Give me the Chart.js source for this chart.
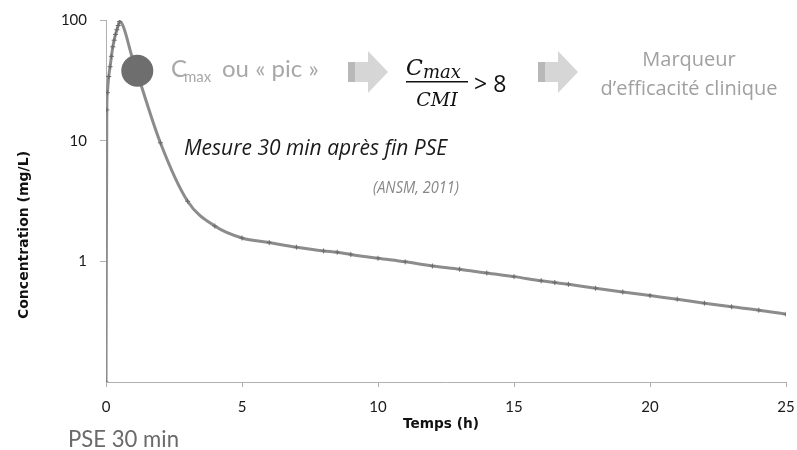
<!DOCTYPE html>
<html>
<head>
<meta charset="utf-8">
<script src="https://cdn.jsdelivr.net/npm/chart.js@4/dist/chart.umd.min.js"></script>
<style>
  html, body { margin: 0; padding: 0; background: #fff; }
  #wrap { width: 797px; height: 450px; }
</style>
</head>
<body>
<div id="wrap"><canvas id="c" width="797" height="450"></canvas></div>
<script>
// temps (h) et concentration (mg/L)
var times = [0, 0.03, 0.05, 0.1, 0.15, 0.2, 0.25, 0.3, 0.35, 0.4, 0.45, 0.5,
  1, 2, 3, 4, 5, 6, 7, 8, 8.5, 9, 10, 11, 12, 13, 14, 15,
  16, 16.5, 17, 18, 19, 20, 21, 22, 23, 24, 25];
var conc = [0.1, 18, 25, 34, 41, 50, 60, 68, 76, 83, 90, 97,
  46, 9.6, 3.15, 1.96, 1.56, 1.43, 1.31, 1.22, 1.19, 1.14, 1.06, 0.99, 0.915, 0.86, 0.80, 0.747,
  0.69, 0.667, 0.645, 0.598, 0.557, 0.52, 0.486, 0.45, 0.42, 0.394, 0.365];

// le "pic" (Cmax) marque par un gros point
var cmaxTime = [1.15];
var cmaxConc = [38];

var yTicks = [0.1, 1, 10, 100];
var yLabels = ['', '1', '10', '100'];
var xTicks = [0, 5, 10, 15, 20, 25];

var curve = times.map(function (t, i) { return { x: t, y: conc[i] }; });
var pic = cmaxTime.map(function (t, i) { return { x: t, y: cmaxConc[i] }; });

// textes et fleches autour du graphe
var annotations = {
  id: 'annotations',
  afterDraw: function (chart) {
    var ctx = chart.ctx;
    ctx.save();
    ctx.textBaseline = 'alphabetic';

    // titres des axes
    ctx.fillStyle = '#111';
    ctx.font = 'bold 14px "DejaVu Sans"';
    ctx.textAlign = 'center';
    ctx.fillText('Temps (h)', 441, 428, 76);
    ctx.save();
    ctx.translate(28, 235);
    ctx.rotate(-Math.PI / 2);
    ctx.fillText('Concentration (mg/L)', 0, 0, 190);
    ctx.restore();

    // PSE 30 min
    ctx.fillStyle = '#6a6a6a';
    ctx.font = '23px Lato';
    ctx.textAlign = 'left';
    ctx.fillText('PSE 30 min', 68, 447, 111);

    // Cmax ou « pic »
    ctx.fillStyle = '#a8a8a8';
    ctx.font = '24px Lato';
    ctx.fillText('C', 171, 77);
    ctx.font = '15px Lato';
    ctx.fillText('max', 184, 82, 33);
    ctx.font = '24px Lato';
    ctx.fillText('ou \u00ab pic \u00bb', 222, 77, 100);

    // fleches
    drawArrow(ctx, 348, 388, 72);
    drawArrow(ctx, 538, 578, 72);

    // Cmax / CMI > 8
    ctx.fillStyle = '#111';
    ctx.textAlign = 'left';
    ctx.font = 'italic 22px "DejaVu Serif"';
    ctx.fillText('C', 406, 75);
    ctx.font = 'italic 18px "DejaVu Serif"';
    ctx.fillText('max', 423, 78, 44);
    ctx.fillRect(406, 81, 62, 1.5);
    ctx.textAlign = 'center';
    ctx.font = 'italic 19px "DejaVu Serif"';
    ctx.fillText('CMI', 437, 106, 50);
    ctx.textAlign = 'left';
    ctx.font = '23px "Open Sans"';
    ctx.fillText('> 8', 474, 92, 34);

    // Marqueur d'efficacite clinique
    ctx.fillStyle = '#a0a0a0';
    ctx.textAlign = 'center';
    ctx.font = '20px "Open Sans"';
    ctx.fillText('Marqueur', 689, 66);
    ctx.fillText('d\u2019efficacit\u00e9 clinique', 689, 95, 188);

    // Mesure 30 min apres fin PSE
    ctx.fillStyle = '#1a1a1a';
    ctx.textAlign = 'left';
    ctx.font = 'italic 21px "Open Sans"';
    ctx.fillText('Mesure 30 min apr\u00e8s fin PSE', 184, 155, 278);
    ctx.fillStyle = '#888';
    ctx.font = 'italic 17px "Open Sans"';
    ctx.fillText('(ANSM, 2011)', 373, 193, 86);

    ctx.restore();
  }
};

function drawArrow(ctx, x0, x1, yc) {
  var xh = x0 + 20;
  ctx.fillStyle = '#d6d6d6';
  ctx.beginPath();
  ctx.moveTo(x0, yc - 10);
  ctx.lineTo(xh, yc - 10);
  ctx.lineTo(xh, yc - 21);
  ctx.lineTo(x1, yc);
  ctx.lineTo(xh, yc + 21);
  ctx.lineTo(xh, yc + 10);
  ctx.lineTo(x0, yc + 10);
  ctx.closePath();
  ctx.fill();
  ctx.fillStyle = '#b8b8b8';
  ctx.fillRect(x0, yc - 10, 7, 20);
}

new Chart(document.getElementById('c'), {
  type: 'line',
  data: {
    datasets: [
      {
        data: pic,
        showLine: false,
        pointStyle: 'circle',
        pointRadius: 16,
        pointBackgroundColor: '#6e6e6e',
        pointBorderWidth: 0
      },
      {
        data: curve,
        borderColor: '#8c8c8c',
        borderWidth: 3,
        cubicInterpolationMode: 'monotone',
        pointStyle: 'cross',
        pointRadius: 2.5,
        pointBorderColor: '#6a6a6a',
        pointBorderWidth: 1
      }
    ]
  },
  options: {
    responsive: false,
    animation: false,
    layout: { autoPadding: false, padding: { left: 0, right: 11, top: 20, bottom: 0 } },
    plugins: { legend: { display: false }, tooltip: { enabled: false } },
    scales: {
      x: {
        type: 'linear',
        min: 0,
        max: 25,
        afterBuildTicks: function (s) { s.ticks = xTicks.map(function (v) { return { value: v }; }); },
        afterFit: function (s) { s.height = 68; s.paddingLeft = 0; s.paddingRight = 0; },
        border: { color: '#b0b0b0', width: 1 },
        grid: { drawOnChartArea: false, drawTicks: true, tickLength: 5, color: '#b0b0b0' },
        ticks: { color: '#1a1a1a', font: { family: 'Lato', size: 15 }, padding: 11, maxRotation: 0 }
      },
      y: {
        type: 'logarithmic',
        min: 0.1,
        max: 100,
        afterBuildTicks: function (s) { s.ticks = yTicks.map(function (v) { return { value: v }; }); },
        afterFit: function (s) { s.width = 106; s.paddingTop = 0; s.paddingBottom = 0; },
        border: { color: '#b0b0b0', width: 1 },
        grid: {
          drawOnChartArea: false, drawTicks: true, tickLength: 6,
          color: function (c) { return c.tick && c.tick.value === 0.1 ? 'rgba(0,0,0,0)' : '#b0b0b0'; }
        },
        ticks: {
          color: '#1a1a1a', font: { family: 'Lato', size: 15 }, padding: 13,
          callback: function (v) { var i = yTicks.indexOf(v); return i >= 0 ? yLabels[i] : ''; }
        }
      }
    }
  },
  plugins: [annotations]
});
</script>
</body>
</html>
